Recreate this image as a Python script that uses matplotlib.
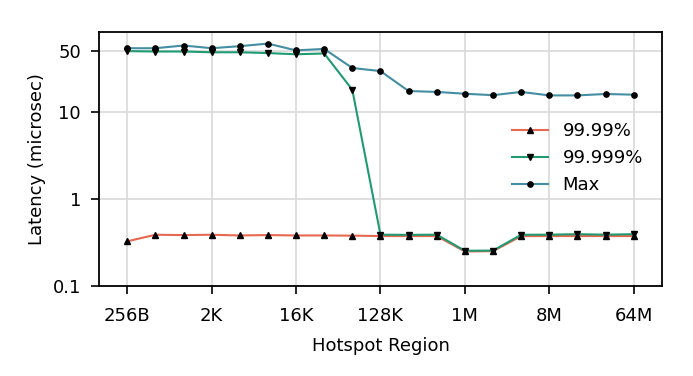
import numpy as np
import matplotlib
matplotlib.use('Agg')
import matplotlib.pyplot as plt
from matplotlib.ticker import FixedLocator, NullLocator

# Data
regions = ['256B', '512B', '1K', '2K', '4K', '8K', '16K', '32K', '64K', '128K',
           '256K', '512K', '1M', '2M', '4M', '8M', '16M', '32M', '64M']
p9999 = [0.327, 0.389, 0.386, 0.389, 0.382, 0.386, 0.382, 0.382, 0.38, 0.376,
         0.376, 0.376, 0.25, 0.252, 0.375, 0.376, 0.376, 0.376, 0.376]
p99999 = [50, 49.5, 49.5, 48.5, 48.5, 47.5, 46, 47, 18, 0.39,
          0.388, 0.39, 0.255, 0.256, 0.389, 0.39, 0.395, 0.39, 0.395]
pmax = [54, 54, 58, 54, 57, 61, 51, 53, 32, 29.5,
        17.4, 17, 16.2, 15.6, 17, 15.5, 15.5, 16.1, 15.8]

yticks = [0.1, 1, 10, 50]
ytick_labels = ['0.1', '1', '10', '50']

plt.rcParams['font.family'] = 'DejaVu Sans'
plt.rcParams['font.size'] = 13

fig = plt.figure(figsize=(6.93, 3.76), dpi=100)
ax = fig.add_axes([0.143, 0.239, 0.812, 0.676])

x = np.arange(len(regions))
ax.plot(x, p9999, color='#e6694f', lw=1.5, marker='^', ms=4.5,
        mfc='black', mec='black', label='99.99%', zorder=3)
ax.plot(x, p99999, color='#1f9a72', lw=1.5, marker='v', ms=4.5,
        mfc='black', mec='black', label='99.999%', zorder=3)
ax.plot(x, pmax, color='#448ea3', lw=1.5, marker='o', ms=3.8,
        mfc='black', mec='black', label='Max', zorder=3)

ax.set_yscale('log')
ax.set_ylim(0.1, 83)
ax.yaxis.set_major_locator(FixedLocator(yticks))
ax.yaxis.set_minor_locator(NullLocator())
ax.set_yticklabels(ytick_labels)

ax.set_xlim(-1, len(regions))
ax.set_xticks(x[::3])
ax.set_xticklabels(regions[::3])

ax.tick_params(axis='both', length=6, width=1.2)
ax.tick_params(axis='x', pad=9)
ax.tick_params(axis='y', pad=7)

ax.grid(True, color='#d9d9d9', lw=1.2, zorder=0)
ax.set_axisbelow(True)
for s in ax.spines.values():
    s.set_linewidth(1.3)

ax.set_xlabel('Hotspot Region', labelpad=9)
ax.set_ylabel('Latency (microsec)', labelpad=5)

ax.legend(loc='upper left', bbox_to_anchor=(0.734, 0.646), frameon=False,
          borderaxespad=0, borderpad=0,
          handlelength=2.0, handletextpad=0.8, labelspacing=0.5)

fig.savefig('out.png', dpi=100)
